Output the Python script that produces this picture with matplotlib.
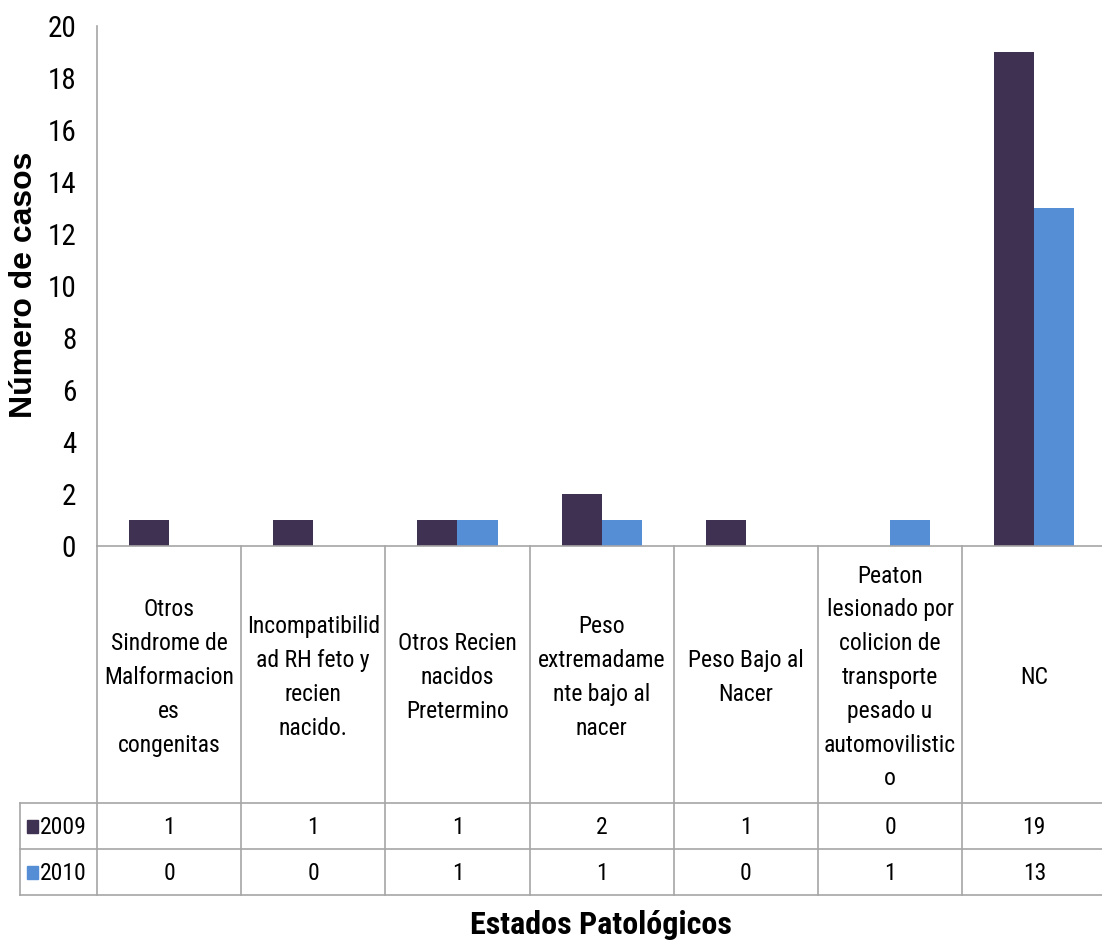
import matplotlib.pyplot as plt
import numpy as np
from matplotlib.patches import Rectangle

categories = [
    "Otros\nSindrome de\nMalformacion\nes\ncongenitas",
    "Incompatibilid\nad RH feto y\nrecien\nnacido.",
    "Otros Recien\nnacidos\nPretermino",
    "Peso\nextremadame\nnte bajo al\nnacer",
    "Peso Bajo al\nNacer",
    "Peaton\nlesionado por\ncolicion de\ntransporte\npesado u\nautomovilistic\no",
    "NC",
]
years = ["2009", "2010"]
vals_2009 = [1, 1, 1, 2, 1, 0, 19]
vals_2010 = [0, 0, 1, 1, 0, 1, 13]
yticks = list(range(0, 21, 2))

c2009 = "#3F3151"
c2010 = "#558ED5"
grid_c = "#A6A6A6"
narrow = ["Roboto Condensed", "DejaVu Sans"]

W, H = 1102, 946
fig = plt.figure(figsize=(W / 100, H / 100), dpi=100)


def px(x0, y0, x1, y1):
    return [x0 / W, 1 - y1 / H, (x1 - x0) / W, (y1 - y0) / H]


col_w = 144.2
left = 97
ax_top, ax_bot = 26, 546
ax = fig.add_axes(px(left, ax_top, left + 7 * col_w, ax_bot))

x = np.arange(len(categories))
bw = 0.278
ax.bar(x - bw / 2, vals_2009, bw, color=c2009)
ax.bar(x + bw / 2, vals_2010, bw, color=c2010)
ax.set_xlim(-0.5, 6.5)
ax.set_ylim(0, 20)
ax.set_yticks(yticks)
ax.set_xticks([])
for s in ["top", "right"]:
    ax.spines[s].set_visible(False)
for s in ["left", "bottom"]:
    ax.spines[s].set_color(grid_c)
    ax.spines[s].set_linewidth(1.2)
ax.tick_params(axis="y", length=0, pad=15, labelsize=21)
for lab in ax.get_yticklabels():
    lab.set_family(narrow)

# data table under the plot
tab = fig.add_axes([0, 0, 1, 1])
tab.set_xlim(0, W)
tab.set_ylim(H, 0)
tab.axis("off")

hdr_bot, r1_bot, r2_bot = 803, 849, 895
edges = [left + i * col_w for i in range(len(categories) + 1)]
lkw = dict(color=grid_c, lw=1.2)
for e in edges:
    tab.plot([e, e], [ax_bot, r2_bot], **lkw)
tab.plot([20, 20], [hdr_bot, r2_bot], **lkw)
for y in [hdr_bot, r1_bot, r2_bot]:
    tab.plot([20, edges[-1]], [y, y], **lkw)

for i, cat in enumerate(categories):
    cx = (edges[i] + edges[i + 1]) / 2
    tab.text(cx, (ax_bot + hdr_bot) / 2 + 3, cat, ha="center", va="center",
             fontsize=17, family=narrow, linespacing=1.6)
    tab.text(cx, (hdr_bot + r1_bot) / 2 + 1, str(vals_2009[i]), ha="center",
             va="center", fontsize=17, family=narrow)
    tab.text(cx, (r1_bot + r2_bot) / 2 + 1, str(vals_2010[i]), ha="center",
             va="center", fontsize=17, family=narrow)

for yr, col, (y0, y1) in zip(years, [c2009, c2010],
                             [(hdr_bot, r1_bot), (r1_bot, r2_bot)]):
    cy = (y0 + y1) / 2
    tab.add_patch(Rectangle((27, cy - 6), 11, 13, color=col))
    tab.text(40, cy + 1, yr, ha="left", va="center", fontsize=17, family=narrow)

fig.text(24 / W, 1 - 285 / H, "Número de casos", rotation=90, ha="center",
         va="center", fontsize=23, fontweight="bold",
         family=["Liberation Sans", "DejaVu Sans"])
fig.text(601 / W, 1 - 925 / H, "Estados Patológicos", ha="center", va="center",
         fontsize=23, fontweight="bold", family=narrow)

fig.savefig("out.png", dpi=100)
